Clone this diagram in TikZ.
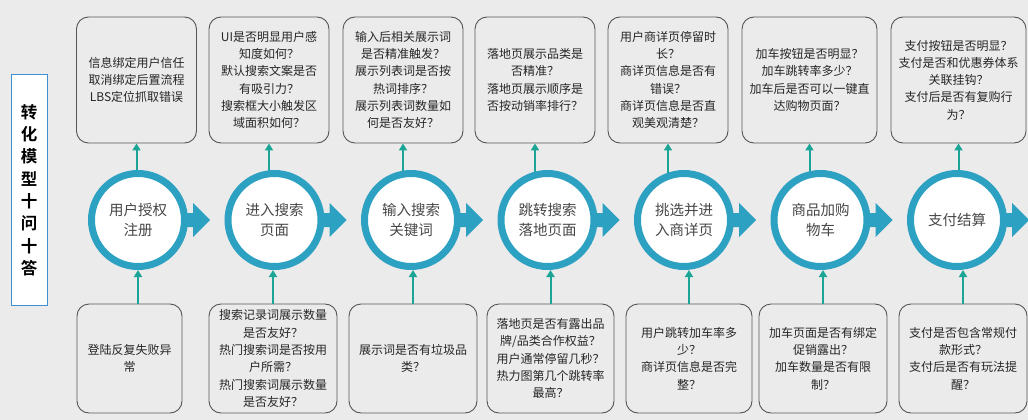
\documentclass[tikz,border=0pt]{standalone}
\usepackage{fontspec}
\setmainfont{Noto Sans CJK SC}[BoldFont={Noto Sans CJK SC Bold}]
\usetikzlibrary{arrows.meta, backgrounds}

\definecolor{bggray}{HTML}{EBEBEB}
\definecolor{ringblue}{HTML}{2DA1C1}
\definecolor{tealline}{HTML}{1BA596}
\definecolor{boxline}{HTML}{555555}
\definecolor{titleblue}{HTML}{3F8FD2}

\begin{document}
\begin{tikzpicture}[node distance=136.5pt,
	stage/.style={circle, draw=ringblue, line width=7pt, fill=white, minimum size=93pt, inner sep=0pt, align=center, text=black!72, font=\fontsize{14.5}{20}\selectfont},
	qbox/.style={draw=boxline, line width=0.9pt, rounded corners=12pt, minimum width=120pt, minimum height=126pt, inner sep=2pt, align=center, text=black!85, font=\fontsize{12}{17.3}\selectfont},
	abox/.style={qbox, minimum width=128pt, minimum height=109pt},
	qarrow/.style={draw=tealline, line width=2pt, -{Triangle[width=8pt,length=7pt]}}]
			\begin{pgfonlayer}{background}
			\fill [bggray] (0,0) rectangle (1028pt,-420pt);
			\end{pgfonlayer}
			\useasboundingbox (0,0) rectangle (1028pt,-420pt);
			
			\node [draw=titleblue, fill=white, line width=1pt, minimum width=36pt, minimum height=230pt, align=center, font=\bfseries\fontsize{16.5}{22.3}\selectfont] (title) at (29pt,-190pt) {转\\化\\模\\型\\十\\问\\十\\答};
			
			% stages
			\node [stage] (c1) at (138pt,-220pt) {用户授权\\注册};
			\node [stage, right of=c1] (c2) {进入搜索\\页面};
			\node [stage, right of=c2] (c3) {输入搜索\\关键词};
			\node [stage, right of=c3] (c4) {跳转搜索\\落地页面};
			\node [stage, right of=c4] (c5) {挑选并进\\入商详页};
			\node [stage, right of=c5] (c6) {商品加购\\物车};
			\node [stage, right of=c6] (c7) {支付结算};
			
			% questions above
			\node [qbox, above of=c1, xshift=-1.5pt, yshift=3.5pt] (q1) {信息绑定用户信任\\取消绑定后置流程\\LBS定位抓取错误};
			\node [qbox, above of=c2, xshift=-5.5pt, yshift=3.5pt] (q2) {UI是否明显用户感\\知度如何？\\默认搜索文案是否\\有吸引力？\\搜索框大小触发区\\域面积如何？};
			\node [qbox, above of=c3, xshift=-8pt, yshift=3.5pt] (q3) {输入后相关展示词\\是否精准触发？\\展示列表词是否按\\热词排序？\\展示列表词数量如\\何是否友好？};
			\node [qbox, above of=c4, xshift=-12.5pt, yshift=3.5pt] (q4) {落地页展示品类是\\否精准？\\落地页展示顺序是\\否按动销率排行？};
			\node [qbox, above of=c5, xshift=-16pt, yshift=3.5pt] (q5) {用户商详页停留时\\长？\\商详页信息是否有\\错误？\\商详页信息是否直\\观美观清楚？};
			\node [qbox, above of=c6, xshift=-11pt, yshift=3.5pt, minimum width=135pt] (q6) {加车按钮是否明显？\\加车跳转率多少？\\加车后是否可以一键直\\达购物页面？};
			\node [qbox, above of=c7, xshift=1.5pt, yshift=3.5pt, minimum width=135pt] (q7) {支付按钮是否明显？\\支付是否和优惠券体系\\关联挂钩？\\支付后是否有复购行\\为？};
			
			% questions below
			\node [abox, below of=c1, xshift=-8.5pt, yshift=-2pt, minimum width=105pt] (b1) {登陆反复失败异\\常};
			\node [abox, below of=c2, xshift=-1.5pt, yshift=-2pt] (b2) {搜索记录词展示数量\\是否友好？\\热门搜索词是否按用\\户所需？\\热门搜索词展示数量\\是否友好？};
			\node [abox, below of=c3, xshift=2pt, yshift=-2pt] (b3) {展示词是否有垃圾品\\类？};
			\node [abox, below of=c4, xshift=3pt, yshift=-2pt, minimum width=127pt] (b4) {落地页是否有露出品\\牌/品类合作权益？\\用户通常停留几秒？\\热力图第几个跳转率\\最高？};
			\node [abox, below of=c5, xshift=5pt, yshift=-2pt, minimum width=126pt] (b5) {用户跳转加车率多\\少？\\商详页信息是否完\\整？};
			\node [abox, below of=c6, xshift=2.5pt, yshift=-2pt] (b6) {加车页面是否有绑定\\促销露出？\\加车数量是否有限\\制？};
			\node [abox, below of=c7, xshift=6pt, yshift=-2pt] (b7) {支付是否包含常规付\\款形式？\\支付后是否有玩法提\\醒？};
			
			\begin{pgfonlayer}{background}
			% chevrons between stages
			\fill [ringblue] ([shift={(40pt,7pt)}]c1.center) -- ++(15pt,0) -- ++(0,10pt) -- ++(17pt,-17pt) -- ++(-17pt,-17pt) -- ++(0,10pt) -- ++(-15pt,0) -- cycle;
			\fill [ringblue] ([shift={(40pt,7pt)}]c2.center) -- ++(15pt,0) -- ++(0,10pt) -- ++(17pt,-17pt) -- ++(-17pt,-17pt) -- ++(0,10pt) -- ++(-15pt,0) -- cycle;
			\fill [ringblue] ([shift={(40pt,7pt)}]c3.center) -- ++(15pt,0) -- ++(0,10pt) -- ++(17pt,-17pt) -- ++(-17pt,-17pt) -- ++(0,10pt) -- ++(-15pt,0) -- cycle;
			\fill [ringblue] ([shift={(40pt,7pt)}]c4.center) -- ++(15pt,0) -- ++(0,10pt) -- ++(17pt,-17pt) -- ++(-17pt,-17pt) -- ++(0,10pt) -- ++(-15pt,0) -- cycle;
			\fill [ringblue] ([shift={(40pt,7pt)}]c5.center) -- ++(15pt,0) -- ++(0,10pt) -- ++(17pt,-17pt) -- ++(-17pt,-17pt) -- ++(0,10pt) -- ++(-15pt,0) -- cycle;
			\fill [ringblue] ([shift={(40pt,7pt)}]c6.center) -- ++(15pt,0) -- ++(0,10pt) -- ++(17pt,-17pt) -- ++(-17pt,-17pt) -- ++(0,10pt) -- ++(-15pt,0) -- cycle;
			\fill [ringblue] ([shift={(40pt,7pt)}]c7.center) -- ++(15pt,0) -- ++(0,10pt) -- ++(17pt,-17pt) -- ++(-17pt,-17pt) -- ++(0,10pt) -- ++(-15pt,0) -- cycle;
			
			% arrows up to the questions
			\draw [qarrow] (q1.south |- c1.center) -- (q1.south);
			\draw [qarrow] (q2.south |- c2.center) -- (q2.south);
			\draw [qarrow] (q3.south |- c3.center) -- (q3.south);
			\draw [qarrow] (q4.south |- c4.center) -- (q4.south);
			\draw [qarrow] (q5.south |- c5.center) -- (q5.south);
			\draw [qarrow] (q6.south |- c6.center) -- (q6.south);
			\draw [qarrow] (q7.south |- c7.center) -- (q7.south);
			\end{pgfonlayer}
			
			% arrows up to the stages
			\draw [qarrow] (c1.south |- b1.north) -- (c1.south);
			\draw [qarrow] (b2.north) -- (b2.north |- c2.south);
			\draw [qarrow] (b3.north) -- (b3.north |- c3.south);
			\draw [qarrow] (b4.north) -- (b4.north |- c4.south);
			\draw [qarrow] (b5.north) -- (b5.north |- c5.south);
			\draw [qarrow] (b6.north) -- (b6.north |- c6.south);
			\draw [qarrow] (b7.north) -- (b7.north |- c7.south);
		\end{tikzpicture}
\end{document}
